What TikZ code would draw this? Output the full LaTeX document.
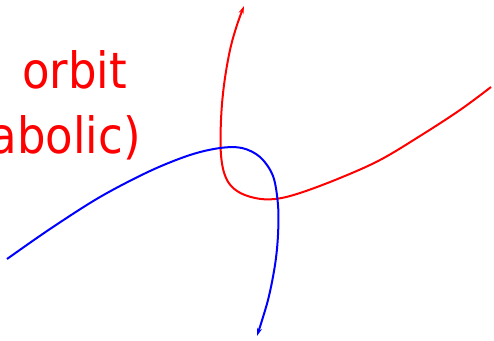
\documentclass[tikz,border=0pt]{standalone}
\usepackage{fontspec}
\newfontfamily\lblfont{DejaVu Sans Condensed}
\usetikzlibrary{arrows.meta}
\tikzset{
  orbitred/.style={draw=red, line width=2pt, -{Stealth[length=8pt,width=5pt]}},
  orbitblue/.style={draw=blue, line width=2pt, -{Stealth[length=8pt,width=5pt]}},
  lbl/.style={text=red, font=\lblfont\fontsize{50}{58}\selectfont, inner sep=0pt}
}
\begin{document}
\begin{tikzpicture}[x=1pt,y=-1pt]
\useasboundingbox (0,0) rectangle (494,340);
\node[lbl, anchor=base east] (t1) at (127,88) {orbit};
\node[lbl, anchor=base east] (t2) at (141,153) {abolic)};
% red orbit
\draw[orbitred] plot[smooth, tension=0.6] coordinates {
 (491,87) (460,110) (420,136) (380,160) (340,178) (300,193) (275,199) (255,198) (237,191) (226,178) (221,155) (221,120) (224,85) (230,50) (237,25) (244,6)};
% blue orbit
\draw[orbitblue] plot[smooth, tension=0.55] coordinates {
 (7,259) (50,229) (100,197) (150,171) (190,155) (220,148) (242,148) (260,157) (273,176) (278,205) (278,235) (275,265) (268,300) (257,336)};
\end{tikzpicture}
\end{document}
